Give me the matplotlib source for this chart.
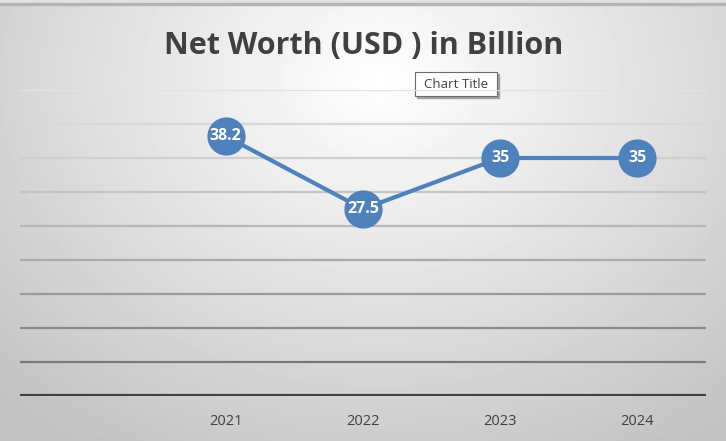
import matplotlib
matplotlib.use("Agg")
import matplotlib.pyplot as plt
import numpy as np
from matplotlib.patches import Rectangle

# data
years = ["", "2021", "2022", "2023", "2024"]
net_worth = [None, 38.2, 27.5, 35, 35]
y_ticks = [5, 10, 15, 20, 25, 30, 35, 40, 45]

W, H = 726, 441
fig = plt.figure(figsize=(W / 100, H / 100), dpi=100)

# radial gradient background
bg = fig.add_axes([0, 0, 1, 1])
yy, xx = np.mgrid[0:H, 0:W]
cx, cy = 380, 80
r = np.sqrt(((xx - cx) / 520.0) ** 2 + ((yy - cy) / 420.0) ** 2)
shade = np.clip(1.0 - 0.23 * r, 0.76, 1.0)
bg.imshow(shade, cmap="gray", vmin=0, vmax=1, extent=[0, W, H, 0], aspect="auto")
bg.add_patch(Rectangle((0, 0), W, 3, color="#e2e2e2"))
bg.add_patch(Rectangle((0, 3), W, 1.5, color="#b4b4b4"))
bg.set_xlim(0, W)
bg.set_ylim(H, 0)
bg.axis("off")

# plot area: x 20..706, y 90..396 (pixels)
ax = fig.add_axes([20 / W, 1 - 396 / H, 686 / W, 306 / H])
ax.patch.set_alpha(0)
ax.set_xlim(-0.5, len(years) - 0.5)
ax.set_ylim(0, 45)

grid_cols = ["#7a7a7a", "#8a8a8a", "#9a9a9a", "#aaaaaa", "#b8b8b8",
             "#c4c4c4", "#cfcfcf", "#d8d8d8", "#e2e2e2"]
for t, c in zip(y_ticks, grid_cols):
    ax.axhline(t, color=c, lw=1.6, zorder=1)
ax.axhline(0, color="#404040", lw=3.0, zorder=2)

xs = [i for i, v in enumerate(net_worth) if v is not None]
vs = [v for v in net_worth if v is not None]
ax.plot(xs, vs, color="#4f81bd", lw=3.0, marker="o", markersize=26.5,
        markerfacecolor="#4f81bd", markeredgecolor="#4f81bd", zorder=3)
for x, v in zip(xs, vs):
    ax.text(x, v, f"{v:g}", ha="center", va="center", color="white",
            fontsize=11.5, fontweight="bold", family="Open Sans", zorder=4)

for s in ax.spines.values():
    s.set_visible(False)
ax.set_yticks([])
ax.set_xticks(range(len(years)))
ax.set_xticklabels(years, fontsize=10.5, color="#404040", family="Open Sans")
ax.tick_params(axis="x", length=0, pad=13)

fig.text(364 / W, 1 - 46 / H, "Net Worth (USD ) in Billion", ha="center",
         va="center", fontsize=22, fontweight="bold", color="#404040",
         family="Open Sans")

# tooltip box
bg.add_patch(Rectangle((417, 74), 82, 24, color="#a0a0a0", zorder=5))
bg.add_patch(Rectangle((415, 72), 82, 24, facecolor="white",
                       edgecolor="#6a6a6a", lw=0.8, zorder=6))
bg.text(456, 84, "Chart Title", ha="center", va="center", fontsize=9.5,
        color="#404040", family="Open Sans", zorder=7)

fig.savefig("out.png", dpi=100)
